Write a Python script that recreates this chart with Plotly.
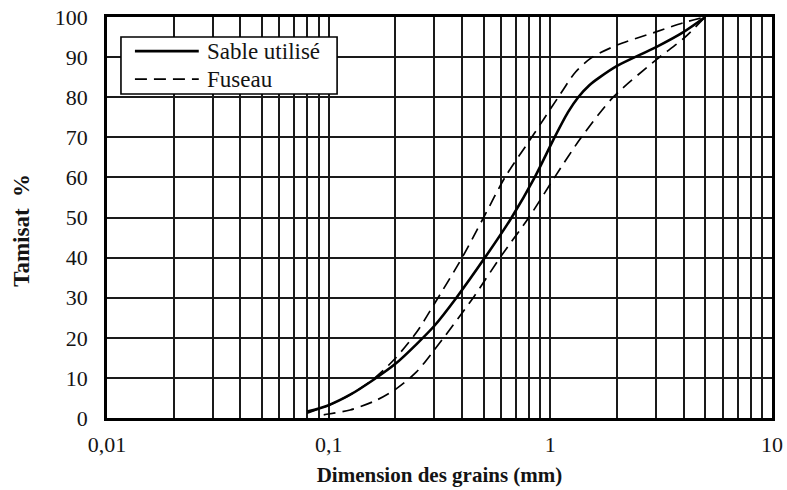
import plotly.graph_objects as go

# Granulometric curve of the sand and its reference envelope (fuseau)
sable_d = [0.08, 0.1, 0.125, 0.16, 0.2, 0.25, 0.3, 0.377, 0.507, 0.669, 0.85, 1.03, 1.2, 1.336, 1.5, 1.674, 2.0, 3.0, 4.0, 5.0]
sable_y = [1.6, 3.2, 5.8, 9.6, 13.5, 18.5, 23, 30, 40, 50, 60, 69.3, 76.2, 80, 83, 85, 87.8, 92.5, 96.3, 100]

fuseau_fin_d = [0.08, 0.1, 0.125, 0.16, 0.2, 0.25, 0.3, 0.4, 0.5, 0.624, 0.824, 1.086, 1.3, 1.53, 2.0, 3.0, 4.0, 5.0]
fuseau_fin_y = [1.2, 3.2, 5.8, 9.8, 14.9, 21.5, 28.5, 40, 50, 60, 70, 80, 86.3, 89.8, 93, 96.3, 98.6, 100]

fuseau_gros_d = [0.095, 0.1, 0.125, 0.165, 0.203, 0.249, 0.3, 0.449, 0.593, 0.8, 1.045, 1.38, 1.92, 3.0, 4.0, 5.0]
fuseau_gros_y = [0.8, 1.0, 2.0, 4.5, 7.4, 11.5, 17.0, 30, 40, 50, 60, 70, 80, 89.3, 94.7, 100]

legend_labels = ["Sable utilisé", "Fuseau"]

# Log-axis grid: every integer multiple inside each decade, labels only on decades
x_grid = [m * 10 ** e for e in (-2, -1, 0) for m in range(1, 10)] + [10]
decade_text = {0.01: "0,01", 0.1: "0,1", 1: "1", 10: "10"}
x_text = [decade_text.get(v, "") for v in x_grid]
y_ticks = list(range(0, 101, 10))

serif = "Liberation Serif"
ink = "#141414"
solid_style = dict(color="black", width=2.6)
dash_style = dict(color="black", width=1.7, dash="12px,7px")

fig = go.Figure()
fig.add_trace(go.Scatter(
    x=sable_d, y=sable_y, mode="lines", name=legend_labels[0],
    line=dict(**solid_style, shape="spline", smoothing=0.8),
))
fig.add_trace(go.Scatter(
    x=fuseau_fin_d, y=fuseau_fin_y, mode="lines", name=legend_labels[1],
    line=dict(**dash_style, shape="spline", smoothing=0.8),
))
fig.add_trace(go.Scatter(
    x=fuseau_gros_d, y=fuseau_gros_y, mode="lines", name=legend_labels[1],
    line=dict(**dash_style, shape="spline", smoothing=0.8),
))

fig.update_layout(
    width=787, height=490,
    margin=dict(l=107, r=15, t=17, b=72),
    paper_bgcolor="white", plot_bgcolor="white",
    font=dict(family=serif, size=22, color=ink),
    showlegend=False,
)

fig.update_xaxes(
    type="log", range=[-2, 1], automargin=False,
    tickmode="array", tickvals=x_grid, ticktext=x_text,
    ticks="", ticklabelstandoff=5,
    showgrid=True, gridcolor="#1a1a1a", gridwidth=1.5,
    showline=True, linecolor="black", linewidth=2.6, mirror=True,
    zeroline=False,
    tickfont=dict(family=serif, size=22, color=ink),
    title=dict(text="<b>Dimension des grains (mm)</b>", standoff=12,
               font=dict(family=serif, size=21, color=ink)),
)
fig.update_yaxes(
    range=[0, 100], automargin=False,
    tickmode="array", tickvals=y_ticks,
    ticks="", ticklabelstandoff=12,
    showgrid=True, gridcolor="#1a1a1a", gridwidth=1.5,
    showline=True, linecolor="black", linewidth=2.6, mirror=True,
    zeroline=False,
    tickfont=dict(family=serif, size=22, color=ink),
)

fig.add_annotation(
    xref="paper", yref="paper", x=-0.128, y=0.469,
    xanchor="center", yanchor="middle",
    text="<b>Tamisat&nbsp;&nbsp;%</b>", textangle=-90, showarrow=False,
    font=dict(family=serif, size=23, color=ink),
)

# Legend box drawn in the upper-left corner of the plotting area
fig.add_shape(type="rect", xref="paper", yref="paper",
              x0=0.021, x1=0.346, y0=0.808, y1=0.950,
              line=dict(color="black", width=1.6), fillcolor="white", layer="above")
fig.add_shape(type="line", xref="paper", yref="paper",
              x0=0.042, x1=0.138, y0=0.915, y1=0.915,
              line=dict(color="black", width=2.6), layer="above")
fig.add_shape(type="line", xref="paper", yref="paper",
              x0=0.042, x1=0.138, y0=0.845, y1=0.845,
              line=dict(color="black", width=1.7, dash="12px,7px"), layer="above")
for label, ypos in zip(legend_labels, [0.915, 0.845]):
    fig.add_annotation(
        xref="paper", yref="paper", x=0.147, y=ypos, xanchor="left", yanchor="middle",
        text=label, showarrow=False,
        font=dict(family=serif, size=23, color=ink),
    )

fig.write_html("out.html")
